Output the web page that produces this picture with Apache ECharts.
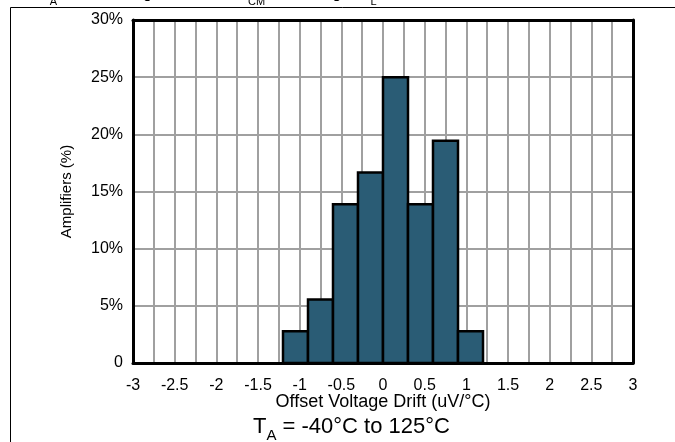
<!DOCTYPE html>
<html>
<head>
<meta charset="utf-8">
<script src="https://cdn.jsdelivr.net/npm/echarts@6/dist/echarts.min.js"></script>
<style>
html,body{margin:0;padding:0;background:#fff;}
#chart{width:675px;height:442px;}
</style>
</head>
<body>
<div id="chart"></div>
<script>
// Histogram bins (uV/°C) and share of amplifiers (%)
var binStart = [-1.2, -0.9, -0.6, -0.3, 0.0, 0.3, 0.6, 0.9];
var binEnd   = [-0.9, -0.6, -0.3, 0.0, 0.3, 0.6, 0.9, 1.2];
var percent  = [2.78, 5.56, 13.89, 16.67, 25.0, 13.89, 19.44, 2.78];
var xTicks = [-3, -2.5, -2, -1.5, -1, -0.5, 0, 0.5, 1, 1.5, 2, 2.5, 3];
var yTicks = [0, 5, 10, 15, 20, 25, 30];

var FONT = "'Liberation Sans', Arial, sans-serif";
var chart = echarts.init(document.getElementById('chart'), null, {renderer: 'canvas'});

var data = binStart.map(function (s, i) { return [s, binEnd[i], percent[i]]; });

var option = {
  animation: false,
  backgroundColor: '#fff',
  textStyle: {fontFamily: FONT},
  grid: {left: 133, right: 42, top: 20, bottom: 79, show: false},
  xAxis: [{
    type: 'value',
    min: xTicks[0], max: xTicks[xTicks.length - 1], interval: 0.25,
    axisLine: {show: true, onZero: false, lineStyle: {color: '#000', width: 3}},
    axisTick: {show: false},
    axisLabel: {
      color: '#000', fontSize: 16, fontFamily: FONT, margin: 15,
      formatter: function (v) {
        return Math.abs(v * 2 - Math.round(v * 2)) < 1e-9 ? String(v) : '';
      }
    },
    splitLine: {show: true, lineStyle: {color: '#a0a0a0', width: 2}},
    name: 'Offset Voltage Drift (uV/°C)',
    nameLocation: 'middle', nameGap: 30, nameMoveOverlap: false,
    nameTextStyle: {color: '#000', fontSize: 18, fontFamily: FONT}
  }, {
    type: 'value', position: 'top',
    min: xTicks[0], max: xTicks[xTicks.length - 1],
    axisLine: {show: true, onZero: false, lineStyle: {color: '#000', width: 3}},
    axisTick: {show: false}, axisLabel: {show: false}, splitLine: {show: false}
  }],
  yAxis: [{
    type: 'value',
    min: yTicks[0], max: yTicks[yTicks.length - 1], interval: 5,
    axisLine: {show: true, onZero: false, lineStyle: {color: '#000', width: 3}},
    axisTick: {show: false},
    axisLabel: {
      color: '#000', fontSize: 16, fontFamily: FONT, margin: 10,
      formatter: function (v) { return v === 0 ? '0' : v + '%'; }
    },
    splitLine: {show: true, lineStyle: {color: '#a0a0a0', width: 2}},
    name: 'Amplifiers (%)',
    nameLocation: 'middle', nameGap: 59, nameRotate: 90, nameMoveOverlap: false,
    nameTextStyle: {color: '#000', fontSize: 15, fontFamily: FONT}
  }, {
    type: 'value', position: 'right',
    min: yTicks[0], max: yTicks[yTicks.length - 1],
    axisLine: {show: true, onZero: false, lineStyle: {color: '#000', width: 3}},
    axisTick: {show: false}, axisLabel: {show: false}, splitLine: {show: false}
  }],
  series: [{
    type: 'custom',
    xAxisIndex: 0, yAxisIndex: 0,
    data: data,
    z: 5,
    renderItem: function (params, api) {
      var p0 = api.coord([api.value(0), api.value(2)]);
      var p1 = api.coord([api.value(1), 0]);
      return {
        type: 'rect',
        shape: {x: p0[0], y: p0[1], width: p1[0] - p0[0], height: p1[1] - p0[1]},
        style: {fill: '#2a5c75', stroke: '#000', lineWidth: 2.5}
      };
    }
  }],
  graphic: [
    {type: 'line', shape: {x1: 10.5, y1: 7.5, x2: 675, y2: 7.5}, style: {stroke: '#000', lineWidth: 1}, z: 10},
    {type: 'line', shape: {x1: 10.5, y1: 7.5, x2: 10.5, y2: 442}, style: {stroke: '#000', lineWidth: 1}, z: 10},
    {
      type: 'text', left: 40, top: -14, z: 10,
      style: {
        text: '{n|T}{s|A}{n| = 25°C, Single Channel, V}{s|CM}{n| = Midrange, R}{s|L}{n| = 10 kΩ}',
        fontFamily: FONT,
        rich: {
          n: {fontSize: 16, fontFamily: FONT, fill: '#000', verticalAlign: 'bottom'},
          s: {fontSize: 11, fontFamily: FONT, fill: '#000', verticalAlign: 'bottom', padding: [0, 0, -5, 0]}
        }
      }
    },
    {
      type: 'text', left: 253, top: 416, z: 10,
      style: {
        text: '{n|T}{s|A}{n| = -40°C to 125°C}',
        fontFamily: FONT,
        rich: {
          n: {fontSize: 22, fontFamily: FONT, fill: '#000', verticalAlign: 'bottom'},
          s: {fontSize: 15, fontFamily: FONT, fill: '#000', verticalAlign: 'bottom', padding: [0, 0, -5, 0]}
        }
      }
    }
  ]
};
chart.setOption(option);
</script>
</body>
</html>
